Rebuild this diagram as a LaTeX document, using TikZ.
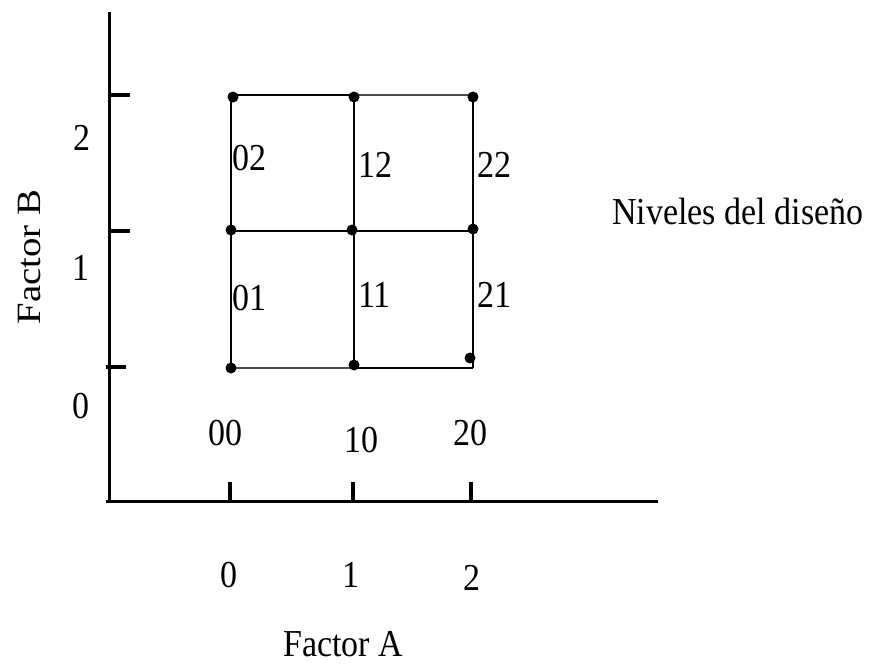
\documentclass[tikz,border=0pt]{standalone}
\usepackage{fontspec}
\setmainfont{Liberation Serif}
\newcommand{\vstretch}[1]{\scalebox{1}[1.12]{#1}}
\begin{document}
\begin{tikzpicture}[x=1pt,y=-1pt,
  lbl/.style={inner sep=0pt, font=\fontsize{34}{40}\selectfont},
  axisline/.style={line width=3pt},
  tickline/.style={line width=4pt},
  gridline/.style={line width=2.8pt},
  softline/.style={line width=2.8pt, black!70},
  dot/.style={circle, fill=black, inner sep=0pt, minimum size=11pt}]
\useasboundingbox (0,0) rectangle (871,665);

% axes
\coordinate (O) at (109.5,501.5);
\coordinate (Ytop) at (109.5,12);
\coordinate (Xl) at (106,501.5);
\coordinate (Xr) at (658,501.5);
\draw[axisline] (Ytop) -- (O);
\draw[axisline] (Xl) -- (Xr);

% y ticks
\coordinate (yt2a) at (108,94.5);  \coordinate (yt2b) at (130,94.5);
\coordinate (yt1a) at (108,231);   \coordinate (yt1b) at (130,231);
\coordinate (yt0a) at (106,366.5); \coordinate (yt0b) at (126,366.5);
\draw[tickline] (yt2a) -- (yt2b);
\draw[tickline] (yt1a) -- (yt1b);
\draw[tickline] (yt0a) -- (yt0b);

% x ticks
\coordinate (xt0a) at (229.5,482); \coordinate (xt0b) at (229.5,501);
\coordinate (xt1a) at (353,482);   \coordinate (xt1b) at (353,501);
\coordinate (xt2a) at (471,482);   \coordinate (xt2b) at (471,501);
\draw[tickline] (xt0a) -- (xt0b);
\draw[tickline] (xt1a) -- (xt1b);
\draw[tickline] (xt2a) -- (xt2b);

% grid points
\coordinate (g02) at (231,95);  \coordinate (g12) at (354,95);  \coordinate (g22) at (473,95);
\coordinate (g01) at (231,231); \coordinate (g11) at (354,231); \coordinate (g21) at (473,231);
\coordinate (g00) at (231,368); \coordinate (g10) at (354,368); \coordinate (g20) at (473,368);

% grid lines
\draw[gridline] (g02) -- (g12);
\draw[softline] (g12) -- (g22);
\draw[gridline] (g01) -- (g11) -- (g21);
\draw[softline] (g00) -- (g10);
\draw[gridline] (g10) -- (g20);
\draw[gridline] (g02) -- (g01) -- (g00);
\draw[gridline] (g12) -- (g11) -- (g10);
\draw[gridline] (g22) -- (g21) -- (g20);

% dots
\node[dot] (d02) at (233,97) {};
\node[dot] (d12) at (354,97) {};
\node[dot] (d22) at (473,97) {};
\node[dot] (d01) at (231,230) {};
\node[dot] (d11) at (352,230) {};
\node[dot] (d21) at (473,229) {};
\node[dot] (d00) at (231,368) {};
\node[dot] (d10) at (354,365) {};
\node[dot] (d20) at (470,358) {};

% cell labels
\node[lbl, anchor=base west] (l02) at (232,170) {\vstretch{02}};
\node[lbl, anchor=base west] (l12) at (358,177) {\vstretch{12}};
\node[lbl, anchor=base west] (l22) at (477,177) {\vstretch{22}};
\node[lbl, anchor=base west] (l01) at (232,310) {\vstretch{01}};
\node[lbl, anchor=base west] (l11) at (358,307) {\vstretch{11}};
\node[lbl, anchor=base west] (l21) at (477,307) {\vstretch{21}};
\node[lbl, anchor=base] (l00) at (225,445) {\vstretch{00}};
\node[lbl, anchor=base] (l10) at (361,452) {\vstretch{10}};
\node[lbl, anchor=base] (l20) at (470,445) {\vstretch{20}};

% axis value labels
\node[lbl, anchor=base] (xa0) at (229,587) {\vstretch{0}};
\node[lbl, anchor=base] (xa1) at (351,587) {\vstretch{1}};
\node[lbl, anchor=base] (xa2) at (472,590) {\vstretch{2}};
\node[lbl, anchor=base] (yb2) at (82,150) {\vstretch{2}};
\node[lbl, anchor=base] (yb1) at (81,280) {\vstretch{1}};
\node[lbl, anchor=base] (yb0) at (81,418) {\vstretch{0}};

% titles
\node[lbl, anchor=base west] (fa) at (283,656) {\vstretch{Factor A}};
\node[lbl, rotate=90, anchor=base] (fb) at (41,257) {\scalebox{1.14}[1]{Factor B}};
\node[lbl, anchor=base west] (niv) at (612,224) {\vstretch{Niveles del diseño}};
\end{tikzpicture}
\end{document}
